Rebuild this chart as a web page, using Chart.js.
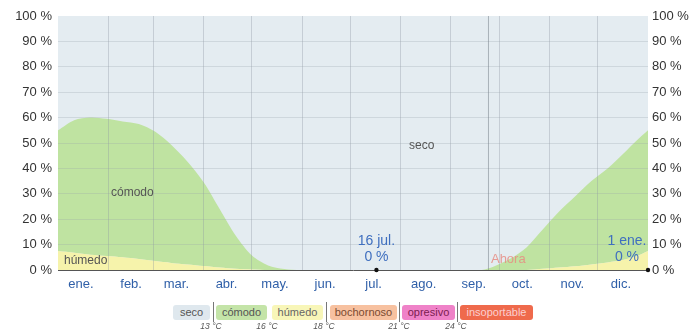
<!DOCTYPE html>
<html>
<head>
<meta charset="utf-8">
<script src="https://cdn.jsdelivr.net/npm/chart.js@4"></script>
<style>
  body { margin: 0; background: #fff; font-family: "Liberation Sans", Arial, sans-serif; }
  #wrap { position: relative; width: 691px; height: 335px; }
  #legend { position: absolute; left: 0; top: 0; width: 691px; height: 335px; pointer-events: none; }
  .pill { position: absolute; top: 305px; height: 15px; line-height: 15px; font-size: 11px; text-align: center; border-radius: 3px; color: #555; }
  .sep { position: absolute; top: 302px; width: 1px; height: 20px; background: #777; }
  .temp { position: absolute; top: 321px; font-size: 8.5px; font-style: italic; color: #555; width: 30px; margin-left: -15px; text-align: center; }
</style>
</head>
<body>
<div id="wrap">
  <canvas id="humChart" width="691" height="335"></canvas>
  <div id="legend"></div>
</div>
<script>
// day of year (0 = 1 ene.) for each sample
const days = [0, 10, 20, 30, 40, 50, 60, 70, 80, 90, 100, 110, 120, 130, 140, 150, 165, 180, 197, 215, 240, 262, 270, 280, 290, 300, 310, 320, 330, 340, 350, 358, 365];
// % of time in each comfort band (stacked: húmedo bottom, cómodo above)
const humedo = [7.5, 6.8, 6, 5.5, 5, 4.3, 3.5, 2.8, 2.2, 1.6, 1, 0.5, 0.2, 0, 0, 0, 0, 0, 0, 0, 0, 0, 0, 0, 0, 0.5, 1, 1.5, 2.2, 3, 4, 5.5, 7.5];
const comodo = [47.5, 52.2, 54, 54, 53.5, 53.2, 51, 46.5, 40.5, 33, 23, 13, 5.5, 1.8, 0.4, 0, 0, 0, 0, 0, 0, 0, 1.5, 4.5, 9, 15.5, 22, 27.5, 32.8, 37, 42, 45.5, 47.5];

const months = ["ene.", "feb.", "mar.", "abr.", "may.", "jun.", "jul.", "ago.", "sep.", "oct.", "nov.", "dic."];
const monthStarts = [0, 31, 59, 90, 120, 151, 181, 212, 243, 273, 304, 334, 365];
const yTicks = [0, 10, 20, 30, 40, 50, 60, 70, 80, 90, 100];

const markers = [
  { day: 197, label: "16 jul.", value: "0 %" },
  { day: 365, label: "1 ene.", value: "0 %" }
];
const nowDay = 266;

const legendItems = [
  { name: "seco", bg: "#dfe8ee", color: "#555" },
  { name: "cómodo", bg: "#c4e4a8", color: "#555" },
  { name: "húmedo", bg: "#f8f6b8", color: "#666" },
  { name: "bochornoso", bg: "#f7c1a0", color: "#7a4a30" },
  { name: "opresivo", bg: "#ef82c8", color: "#7a2050" },
  { name: "insoportable", bg: "#ef6a4c", color: "#fbd0d0" }
];
const legendTemps = ["13 °C", "16 °C", "18 °C", "21 °C", "24 °C"];

const toPts = arr => arr.map((v, i) => ({ x: days[i], y: v }));

const bgPlugin = {
  id: "bg",
  beforeDraw(chart) {
    const { ctx, chartArea: a } = chart;
    ctx.save();
    ctx.fillStyle = "#e4ecf1";
    ctx.fillRect(a.left, a.top, a.right - a.left, a.bottom - a.top);
    ctx.restore();
  }
};

const notePlugin = {
  id: "notes",
  afterDraw(chart) {
    const { ctx, chartArea: a } = chart;
    const xs = chart.scales.x, ys = chart.scales.y;
    ctx.save();
    ctx.textAlign = "center";
    ctx.textBaseline = "middle";
    ctx.font = "12px 'Liberation Sans', Arial";
    ctx.fillStyle = "#555";
    ctx.fillText("seco", xs.getPixelForValue(225), ys.getPixelForValue(49));
    ctx.fillText("cómodo", xs.getPixelForValue(46), ys.getPixelForValue(30.5));
    ctx.textAlign = "left";
    ctx.fillText("húmedo", a.left + 6, ys.getPixelForValue(3.5));

    // now line
    const nx = xs.getPixelForValue(nowDay);
    ctx.strokeStyle = "rgba(120,130,140,0.55)";
    ctx.lineWidth = 1;
    ctx.beginPath();
    ctx.moveTo(nx + 0.5, a.top);
    ctx.lineTo(nx + 0.5, a.bottom);
    ctx.stroke();
    ctx.fillStyle = "rgba(232,140,130,0.85)";
    ctx.font = "13px 'Liberation Sans', Arial";
    ctx.fillText("Ahora", nx + 3, ys.getPixelForValue(4.3));

    // markers
    ctx.font = "14px 'Liberation Sans', Arial";
    ctx.textAlign = "center";
    markers.forEach(m => {
      const px = xs.getPixelForValue(m.day);
      const tx = Math.min(px, a.right - 21);
      ctx.fillStyle = "#3f6fbf";
      ctx.fillText(m.label, tx, ys.getPixelForValue(11.3));
      ctx.fillText(m.value, tx, ys.getPixelForValue(5));
      ctx.fillStyle = "#111";
      ctx.beginPath();
      ctx.arc(px, ys.getPixelForValue(0), 2.2, 0, Math.PI * 2);
      ctx.fill();
    });
    ctx.restore();
  }
};

const tickFont = { family: "'Liberation Sans', Arial", size: 13 };

new Chart(document.getElementById("humChart"), {
  type: "line",
  data: {
    datasets: [
      {
        label: "húmedo",
        data: toPts(humedo),
        backgroundColor: "#f6f3ab",
        borderColor: "rgba(0,0,0,0)",
        fill: "origin",
        borderWidth: 0,
        pointRadius: 0,
        tension: 0.3
      },
      {
        label: "cómodo",
        data: toPts(comodo),
        backgroundColor: "#bfe3a1",
        borderColor: "rgba(0,0,0,0)",
        fill: "-1",
        borderWidth: 0,
        pointRadius: 0,
        tension: 0.3
      }
    ]
  },
  options: {
    responsive: false,
    animation: false,
    layout: { padding: { top: 16, bottom: 43, left: 0, right: 0 } },
    plugins: { legend: { display: false }, tooltip: { enabled: false } },
    scales: {
      x: {
        type: "linear",
        min: 0,
        max: 365,
        afterBuildTicks: axis => { axis.ticks = monthStarts.map(v => ({ value: v })); },
        afterFit: axis => { axis.height = 22; },
        ticks: {
          autoSkip: false,
          maxRotation: 0,
          labelOffset: 23,
          padding: 7,
          color: "#2f5fa8",
          font: tickFont,
          callback: (v, i) => months[i] || ""
        },
        grid: {
          z: 1,
          color: c => (c.index === 0 || c.index === monthStarts.length - 1) ? "rgba(0,0,0,0)" : "rgba(140,150,160,0.35)",
          drawTicks: false
        },
        border: { display: true, color: "#555", width: 1, z: 1 }
      },
      y: {
        stacked: true,
        min: 0,
        max: 100,
        position: "left",
        afterBuildTicks: axis => { axis.ticks = yTicks.map(v => ({ value: v })); },
        afterFit: axis => { axis.width = 58; },
        ticks: { color: "#333", font: tickFont, padding: 6, callback: v => v + " %" },
        grid: {
          z: 1,
          color: c => (c.tick && c.tick.value > 0 && c.tick.value < 100) ? "rgba(150,160,170,0.28)" : "rgba(0,0,0,0)",
          drawTicks: false
        },
        border: { display: false }
      },
      y2: {
        min: 0,
        max: 100,
        position: "right",
        afterBuildTicks: axis => { axis.ticks = yTicks.map(v => ({ value: v })); },
        afterFit: axis => { axis.width = 43; },
        ticks: { color: "#333", font: tickFont, padding: 4, callback: v => v + " %" },
        grid: { display: false, drawTicks: false },
        border: { display: false }
      }
    }
  },
  plugins: [bgPlugin, notePlugin]
});

// comfort band legend
const pillBox = [[173, 37], [216, 51], [272, 51], [330, 67], [402, 53], [460, 73]];
const sepX = [213, 326, 399, 457];
const tempX = [211, 267, 324, 399, 456];
const lg = document.getElementById("legend");
legendItems.forEach((it, i) => {
  const d = document.createElement("div");
  d.className = "pill";
  d.style.left = pillBox[i][0] + "px";
  d.style.width = pillBox[i][1] + "px";
  d.style.background = it.bg;
  d.style.color = it.color;
  d.textContent = it.name;
  lg.appendChild(d);
});
sepX.forEach(x => {
  const s = document.createElement("div");
  s.className = "sep";
  s.style.left = x + "px";
  lg.appendChild(s);
});
legendTemps.forEach((t, i) => {
  const s = document.createElement("div");
  s.className = "temp";
  s.style.left = tempX[i] + "px";
  s.textContent = t;
  lg.appendChild(s);
});
</script>
</body>
</html>
